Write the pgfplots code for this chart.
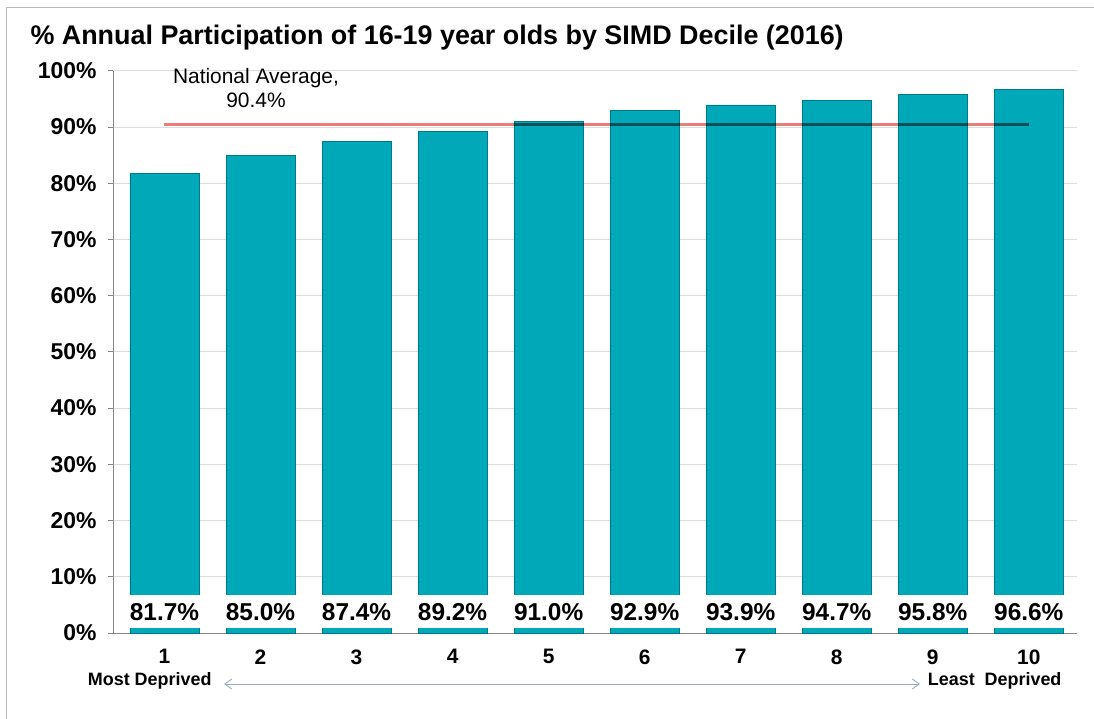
\documentclass[border=0pt]{standalone}
\usepackage{fontspec}
\setmainfont{Liberation Sans}
\usepackage{pgfplots}
\usepackage{pgfplotstable}
\pgfplotsset{compat=1.18}
\usetikzlibrary{arrows.meta}
\definecolor{barfill}{RGB}{0,168,184}
\definecolor{bardraw}{RGB}{0,122,134}
\definecolor{avgline}{RGB}{238,123,123}
\definecolor{gridc}{RGB}{220,220,220}
\definecolor{axc}{RGB}{134,134,134}
\definecolor{arrowc}{RGB}{150,172,200}
\pgfplotstableread{
d v b lab
1 81.7 0.84 81.7
2 85.0 0.84 85.0
3 87.4 0.84 87.4
4 89.2 0.84 89.2
5 91.0 0.84 91.0
6 92.9 0.84 92.9
7 93.9 0.84 93.9
8 94.7 0.84 94.7
9 95.8 0.84 95.8
10 96.6 0.84 96.6
}\datatab
\begin{document}
\begin{tikzpicture}
\useasboundingbox (-113bp,-86bp) rectangle (981bp,633bp);
\draw[color=gray!55, line width=1bp] (-106bp,-86bp) -- (-106bp,625bp) -- (981bp,625bp);
\begin{axis}[
  at={(0,0)}, anchor=south west,
  scale only axis, width=964bp, height=562.3bp,
  xmin=0.464, xmax=10.502, ymin=0, ymax=100,
  axis x line*=bottom, axis y line*=left,
  axis line style={color=axc, line width=0.8bp},
  xtick={1,2,3,4,5,6,7,8,9,10},
  xticklabels={1,2,3,4,5,6,7,8,9,10},
  x tick style={draw=none},
  ytick={0,10,20,30,40,50,60,70,80,90,100},
  yticklabel={\pgfmathprintnumber{\tick}\%},
  ymajorgrids, grid style={color=gridc, line width=0.8bp},
  tick align=outside, major tick length=5bp,
  y tick style={color=axc, line width=0.8bp},
  /pgf/number format/assume math mode=true,
  yticklabel style={font=\fontsize{23}{27}\selectfont\bfseries, xshift=-8bp},
  xticklabel style={font=\fontsize{21}{25}\selectfont\bfseries, yshift=-8bp},
  clip=false,
]
\addplot[ybar, bar width=69bp, bar shift=0pt, fill=barfill, draw=bardraw, line width=0.8bp] table[x=d, y=v] {\datatab};
\addplot[draw=none, mark=none, nodes near coords={\pgfplotspointmeta\%}, point meta=explicit symbolic,
  every node near coord/.style={anchor=south, fill=white, inner sep=0pt, minimum width=71bp, minimum height=32.6bp, text=black, font=\fontsize{24.5}{28}\selectfont\bfseries}]
  table[x=d, y=b, meta=lab] {\datatab};
\addplot[avgline, line width=3bp, blend mode=multiply] coordinates {(1,90.4) (10,90.4)};
\end{axis}
\node[anchor=base west, font=\fontsize{27}{32}\selectfont\bfseries] at (-86bp,588bp) {\% Annual Participation of 16-19 year olds by SIMD Decile (2016)};
\node[anchor=base, align=center, font=\fontsize{21}{24.5}\selectfont] at (143bp,525bp) {National Average,\\90.4\%};
\node[anchor=base east, font=\fontsize{18}{21}\selectfont\bfseries, inner sep=0pt] at (98.7bp,-52bp) {Most Deprived};
\node[anchor=base west, font=\fontsize{18}{21}\selectfont\bfseries, inner sep=0pt] at (814.7bp,-52bp) {Least\ \ Deprived};
\draw[arrowc, line width=0.9bp, {Straight Barb[length=7bp,width=10bp]}-{Straight Barb[length=7bp,width=10bp]}] (111bp,-51bp) -- (807bp,-51bp);
\end{tikzpicture}
\end{document}
